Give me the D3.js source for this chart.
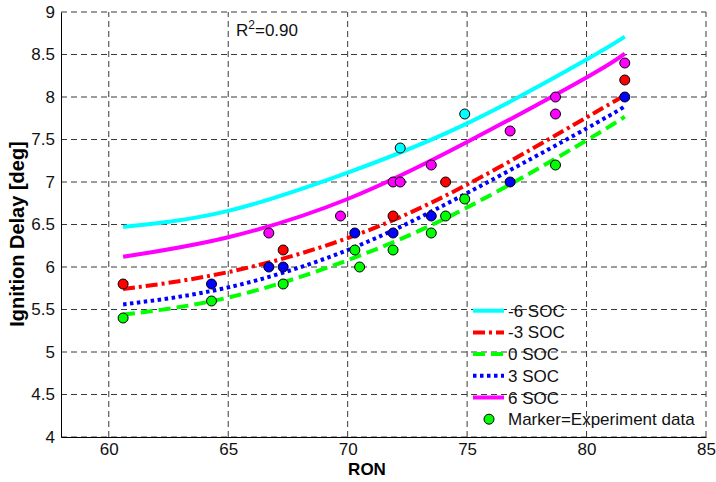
<!DOCTYPE html>
<html>
<head>
<meta charset="utf-8">
<script src="https://cdn.jsdelivr.net/npm/d3@7"></script>
<style>
  body { margin: 0; background: #fff; }
  svg { display: block; font-family: Arial, "Liberation Sans", Helvetica, sans-serif; }
</style>
</head>
<body>
<svg id="chart" width="716" height="482"></svg>
<script>
// fitted curves
const fitRON = [60.6, 65, 70, 75, 80, 81.6];
const fitM6 = [6.47, 6.66, 7.11, 7.69, 8.44, 8.71];
const fitM3 = [5.74, 5.94, 6.34, 6.97, 7.76, 8.02];
const fit0 = [5.44, 5.64, 6.08, 6.70, 7.49, 7.77];
const fitP3 = [5.56, 5.76, 6.20, 6.87, 7.63, 7.89];
const fitP6 = [6.12, 6.35, 6.80, 7.47, 8.23, 8.51];

// experiment markers [RON, delay]
const expM6 = [[72.2, 7.4], [74.9, 7.8]];
const expM3 = [[60.6, 5.8], [67.3, 6.2], [71.9, 6.6], [74.1, 7.0], [81.6, 8.2]];
const exp0 = [[60.6, 5.4], [64.3, 5.6], [67.3, 5.8], [70.3, 6.2], [70.5, 6.0], [71.9, 6.2],
              [73.5, 6.4], [74.1, 6.6], [74.9, 6.8], [78.7, 7.2]];
const expP3 = [[64.3, 5.8], [66.7, 6.0], [67.3, 6.0], [70.3, 6.4], [71.9, 6.4], [73.5, 6.6],
               [76.8, 7.0], [81.6, 8.0]];
const expP6 = [[66.7, 6.4], [69.7, 6.6], [71.9, 7.0], [72.2, 7.0], [73.5, 7.2], [76.8, 7.6],
               [78.7, 8.0], [78.7, 7.8], [81.6, 8.4]];

const xTicks = [60, 65, 70, 75, 80, 85];
const yTicks = [4, 4.5, 5, 5.5, 6, 6.5, 7, 7.5, 8, 8.5, 9];

const series = [
  { name: '-6 SOC', color: '#00ffff', dash: null, fit: fitM6, exp: expM6 },
  { name: '-3 SOC', color: '#ff0000', dash: '12,4,3,4', fit: fitM3, exp: expM3 },
  { name: '0 SOC', color: '#00ff00', dash: '12,6', fit: fit0, exp: exp0 },
  { name: '3 SOC', color: '#0000ff', dash: '3.5,3.5', fit: fitP3, exp: expP3 },
  { name: '6 SOC', color: '#ff00ff', dash: null, fit: fitP6, exp: expP6 },
];

const width = 716, height = 482;
const margin = { top: 12, right: 10, bottom: 45, left: 61 };

const svg = d3.select('#chart');

const xScale = d3.scaleLinear().domain([58, 85]).range([margin.left, width - margin.right]);
const yScale = d3.scaleLinear().domain([4, 9]).range([height - margin.bottom, margin.top]);

// dashed grid
const grid = svg.append('g').attr('class', 'grid')
  .attr('stroke', '#3a3a3a').attr('stroke-width', 1).attr('stroke-dasharray', '6,4');
grid.selectAll('line.v').data(xTicks).join('line')
  .attr('x1', (d) => xScale(d)).attr('x2', (d) => xScale(d))
  .attr('y1', yScale(4)).attr('y2', yScale(9));
grid.selectAll('line.h').data(yTicks).join('line')
  .attr('x1', xScale(58)).attr('x2', xScale(85))
  .attr('y1', (d) => yScale(d)).attr('y2', (d) => yScale(d));

// axes
const xAxis = d3.axisBottom(xScale).tickValues(xTicks).tickSize(0).tickPadding(6);
const yAxis = d3.axisLeft(yScale).tickValues(yTicks).tickSize(0).tickPadding(6)
  .tickFormat(d3.format('~g'));

svg.append('g')
  .attr('transform', `translate(0, ${yScale(4)})`)
  .call(xAxis)
  .call((g) => g.select('.domain').attr('stroke', '#000'))
  .selectAll('text').attr('font-size', 17).attr('fill', '#111').attr('font-family', null);

svg.append('g')
  .attr('transform', `translate(${xScale(58)}, 0)`)
  .call(yAxis)
  .call((g) => g.select('.domain').attr('stroke', '#000'))
  .selectAll('text').attr('font-size', 17).attr('fill', '#111').attr('font-family', null);

// fitted lines
const line = d3.line()
  .x((d) => xScale(d[0]))
  .y((d) => yScale(d[1]))
  .curve(d3.curveNatural);

svg.append('g').selectAll('path')
  .data(series)
  .join('path')
  .attr('d', (s) => line(fitRON.map((x, i) => [x, s.fit[i]])))
  .attr('fill', 'none')
  .attr('stroke', (s) => s.color)
  .attr('stroke-width', 4)
  .attr('stroke-dasharray', (s) => s.dash);

// experiment markers
const dots = svg.append('g').attr('class', 'dots');
series.forEach((s) => {
  dots.append('g').selectAll('circle')
    .data(s.exp)
    .join('circle')
    .attr('cx', (d) => xScale(d[0]))
    .attr('cy', (d) => yScale(d[1]))
    .attr('r', 5)
    .attr('fill', s.color)
    .attr('stroke', '#000')
    .attr('stroke-width', 1);
});

// legend
const legend = svg.append('g').attr('transform', 'translate(473, 310.7)');
const rowH = 21.7;
series.forEach((s, i) => {
  const row = legend.append('g').attr('transform', `translate(0, ${i * rowH})`);
  row.append('line')
    .attr('x1', 0).attr('x2', 31)
    .attr('stroke', s.color).attr('stroke-width', 4)
    .attr('stroke-dasharray', s.dash);
  row.append('text')
    .attr('x', 35).attr('y', 6)
    .attr('font-size', 17).attr('fill', '#111')
    .text(s.name);
});
const mRow = legend.append('g').attr('transform', `translate(0, ${5 * rowH})`);
mRow.append('circle').attr('cx', 16).attr('cy', 0).attr('r', 5)
  .attr('fill', '#00ff00').attr('stroke', '#000');
mRow.append('text').attr('x', 35).attr('y', 6)
  .attr('font-size', 17).attr('fill', '#111')
  .text('Marker=Experiment data');

// R^2 annotation
const r2 = svg.append('text').attr('x', 236).attr('y', 36)
  .attr('font-size', 17).attr('fill', '#111');
r2.append('tspan').text('R');
r2.append('tspan').attr('dy', -7).attr('font-size', 12).text('2');
r2.append('tspan').attr('dy', 7).text('=0.90');

// axis titles
svg.append('text')
  .attr('x', 367).attr('y', 475)
  .attr('text-anchor', 'middle')
  .attr('font-size', 17).attr('font-weight', 'bold')
  .text('RON');

svg.append('text')
  .attr('transform', 'translate(24, 234) rotate(-90)')
  .attr('text-anchor', 'middle')
  .attr('font-size', 20).attr('font-weight', 'bold')
  .text('Ignition Delay [deg]');
</script>
</body>
</html>
